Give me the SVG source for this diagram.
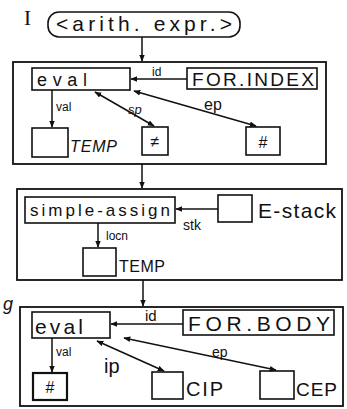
<svg xmlns="http://www.w3.org/2000/svg" width="347" height="409" viewBox="0 0 347 409">
<style>
.box{fill:none;stroke:#111;stroke-width:1.6}
.frame{fill:none;stroke:#111;stroke-width:1.8}
.ln{fill:none;stroke:#111;stroke-width:1.5}
text{font-family:"Liberation Sans",Arial,sans-serif;fill:#111}
.t{font-size:16px}
.s{font-size:12px}
</style>
<defs>
<marker id="ah" viewBox="0 0 10 10" refX="9" refY="5" markerWidth="7" markerHeight="7" orient="auto-start-reverse" markerUnits="userSpaceOnUse">
<path d="M0,1 L10,5 L0,9 z" fill="#111"/>
</marker>
</defs>
<rect width="347" height="409" fill="#fff"/>

<g id="label-I"><text x="24" y="25" style="font-family:'Liberation Serif',serif;font-size:21px">I</text></g>
<g id="arith"><rect class="box" x="48" y="12" width="192" height="25" rx="11"/><text x="56" y="31" style="font-size:21px" textLength="176" lengthAdjust="spacing">&lt;arith. expr.&gt;</text></g>

<g id="frame1"><rect class="frame" x="13" y="62" width="313" height="102"/></g>
<g id="eval1"><rect class="box" x="32" y="68" width="98" height="22"/><text x="37" y="86" style="font-size:18px" textLength="50" lengthAdjust="spacing">eval</text></g>
<g id="forindex"><rect class="box" x="187" y="68" width="130" height="21"/><text x="192" y="86" style="font-size:19px" textLength="122" lengthAdjust="spacing">FOR.INDEX</text></g>
<g id="temp1"><rect class="box" x="32" y="128" width="36" height="29"/><text x="70" y="152" style="font-size:16px;font-style:italic" textLength="47" lengthAdjust="spacing">TEMP</text></g>
<g id="ne"><rect class="box" x="142" y="127" width="26" height="28"/><text x="155" y="147" text-anchor="middle" class="t">≠</text></g>
<g id="hash1"><rect class="box" x="246" y="127" width="34" height="28"/><text x="263" y="148" text-anchor="middle" class="t">#</text></g>

<g id="frame2"><rect class="frame" x="17" y="189" width="325" height="91"/></g>
<g id="sassign"><rect class="box" x="25" y="197" width="150" height="26"/><text x="30" y="216" style="font-size:17px" textLength="140" lengthAdjust="spacing">simple-assign</text></g>
<g id="estack"><rect class="box" x="218" y="195" width="34" height="27"/><text x="258" y="218" style="font-size:21px" textLength="78" lengthAdjust="spacing">E-stack</text></g>
<g id="temp2"><rect class="box" x="83" y="248" width="33" height="28"/><text x="119" y="272" style="font-size:16px" textLength="46" lengthAdjust="spacing">TEMP</text></g>

<g id="mark-g"><text x="3" y="310" style="font-size:18px;font-style:italic">g</text></g>
<g id="frame3"><rect class="frame" x="20" y="307" width="323" height="99"/></g>
<g id="eval3"><rect class="box" x="32" y="312" width="78" height="26"/><text x="35" y="334" style="font-size:21px" textLength="48" lengthAdjust="spacing">eval</text></g>
<g id="forbody"><rect class="box" x="183" y="310" width="151" height="25"/><text x="188" y="331" style="font-size:21px" textLength="142" lengthAdjust="spacing">FOR.BODY</text></g>
<g id="hash3"><rect class="box" x="33" y="373" width="34" height="27" style="stroke-width:2.2"/><text x="50" y="393" text-anchor="middle" class="t">#</text></g>
<g id="cip"><rect class="box" x="152" y="372" width="31" height="27"/><text x="186" y="396" style="font-size:20px" textLength="37" lengthAdjust="spacing">CIP</text></g>
<g id="cep"><rect class="box" x="260" y="371" width="34" height="28"/><text x="296" y="396" style="font-size:19px" textLength="41" lengthAdjust="spacing">CEP</text></g>

<g id="connectors">
<line class="ln" x1="142" y1="37" x2="142" y2="61" marker-end="url(#ah)"/>
<line class="ln" x1="187" y1="79" x2="131" y2="79" marker-end="url(#ah)"/>
<text x="152" y="76" class="s">id</text>
<line class="ln" x1="52" y1="90" x2="52" y2="127" marker-end="url(#ah)"/>
<text x="56" y="111" class="s">val</text>
<line class="ln" x1="95" y1="92" x2="154" y2="126" marker-start="url(#ah)" marker-end="url(#ah)"/>
<text x="128" y="114" style="font-size:13px;font-style:italic">sp</text>
<line class="ln" x1="134" y1="91" x2="256" y2="126" marker-start="url(#ah)" marker-end="url(#ah)"/>
<text x="204" y="110" class="t">ep</text>

<line class="ln" x1="142" y1="164" x2="142" y2="188" marker-end="url(#ah)"/>
<line class="ln" x1="218" y1="209" x2="176" y2="209" marker-end="url(#ah)"/>
<text x="183" y="230" style="font-size:14px">stk</text>
<line class="ln" x1="98" y1="223" x2="98" y2="247" marker-end="url(#ah)"/>
<text x="106" y="240" class="s">locn</text>

<line class="ln" x1="143" y1="280" x2="143" y2="306" marker-end="url(#ah)"/>
<line class="ln" x1="183" y1="324" x2="111" y2="324" marker-end="url(#ah)"/>
<text x="145" y="321" style="font-size:15px">id</text>
<line class="ln" x1="52" y1="338" x2="52" y2="372" marker-end="url(#ah)"/>
<text x="56" y="356" class="s">val</text>
<line class="ln" x1="97" y1="341" x2="164" y2="371" marker-start="url(#ah)" marker-end="url(#ah)"/>
<text x="104" y="373" style="font-size:20px">ip</text>
<line class="ln" x1="124" y1="338" x2="276" y2="370" marker-start="url(#ah)" marker-end="url(#ah)"/>
<text x="212" y="357" style="font-size:14px">ep</text>
</g>
</svg>
